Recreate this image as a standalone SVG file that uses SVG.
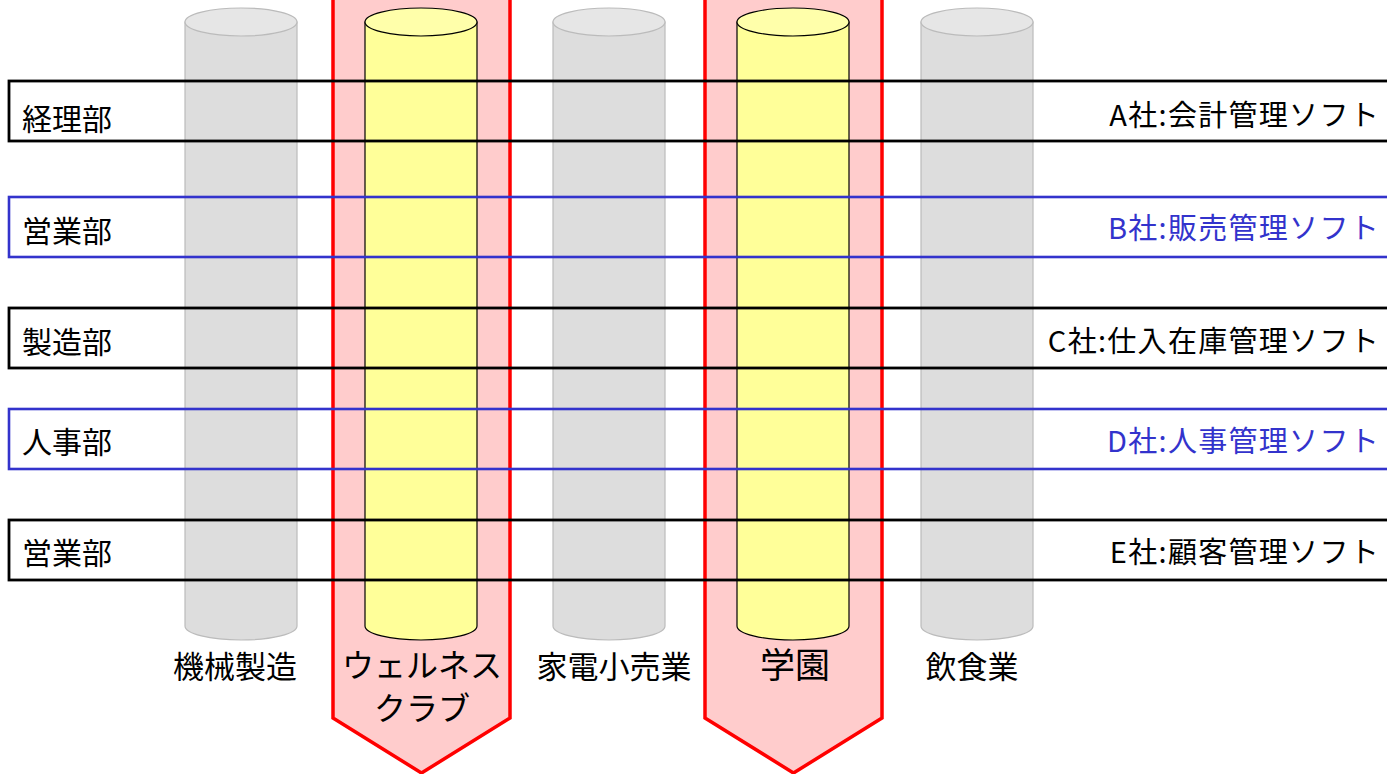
<svg xmlns="http://www.w3.org/2000/svg" width="1387" height="774" viewBox="0 0 1387 774">
<style>
text{font-family:"Noto Sans CJK JP","Noto Sans",sans-serif;fill:#000}
.gb{fill:#dddddd;stroke:#bbbbbb;stroke-width:1.2}
.gt{fill:#e6e6e6;stroke:#bbbbbb;stroke-width:1.2}
.yb{fill:#ffff99;stroke:#000;stroke-width:1.2}
.yt{fill:#ffffaa;stroke:#000;stroke-width:1.2}
.arrow{fill:#ffcccc;stroke:#ff0000;stroke-width:3.5}
.bk{fill:none;stroke:#000;stroke-width:2.8}
.bl{fill:none;stroke:#3333cc;stroke-width:2.6}
.lt{font-size:30px}
.rt{font-size:29px;text-anchor:end;letter-spacing:1.3px}
.blue{fill:#3333cc}
.cl{font-size:31px;text-anchor:middle}
</style>
<g id="arrow-wellness"><polygon class="arrow" points="333,-5 510,-5 510,718 421.5,773 333,718"/></g>
<g id="arrow-gakuen"><polygon class="arrow" points="705,-5 882,-5 882,718 793.5,773 705,718"/></g>
<g id="col-kikai"><path class="gb" d="M185,22 V626 A56,14 0 0 0 297,626 V22 Z"/><ellipse class="gt" cx="241" cy="22" rx="56" ry="14"/><text class="cl" x="235" y="678">機械製造</text></g>
<g id="col-wellness"><path class="yb" d="M365,22 V626 A56,14 0 0 0 477,626 V22 Z"/><ellipse class="yt" cx="421" cy="22" rx="56" ry="14"/><text class="cl" x="422" y="677" style="font-size:32px">ウェルネス</text><text class="cl" x="422" y="720" style="font-size:32px">クラブ</text></g>
<g id="col-kaden"><path class="gb" d="M553,22 V626 A56,14 0 0 0 665,626 V22 Z"/><ellipse class="gt" cx="609" cy="22" rx="56" ry="14"/><text class="cl" x="614" y="678">家電小売業</text></g>
<g id="col-gakuen"><path class="yb" d="M737,22 V626 A56,14 0 0 0 849,626 V22 Z"/><ellipse class="yt" cx="793" cy="22" rx="56" ry="14"/><text class="cl" x="795" y="678" style="font-size:35px">学園</text></g>
<g id="col-inshoku"><path class="gb" d="M921,22 V626 A56,14 0 0 0 1033,626 V22 Z"/><ellipse class="gt" cx="977" cy="22" rx="56" ry="14"/><text class="cl" x="972" y="678">飲食業</text></g>
<g id="band-a"><rect class="bk" x="9" y="81" width="1390" height="60"/><text class="lt" x="22" y="130">経理部</text><text class="rt" x="1380" y="126">A社:会計管理ソフト</text></g>
<g id="band-b"><rect class="bl" x="9" y="197" width="1390" height="60"/><text class="lt" x="22" y="242">営業部</text><text class="rt blue" x="1380" y="239">B社:販売管理ソフト</text></g>
<g id="band-c"><rect class="bk" x="9" y="308" width="1390" height="60"/><text class="lt" x="22" y="353">製造部</text><text class="rt" x="1380" y="352">C社:仕入在庫管理ソフト</text></g>
<g id="band-d"><rect class="bl" x="9" y="409" width="1390" height="60"/><text class="lt" x="22" y="453">人事部</text><text class="rt blue" x="1380" y="452">D社:人事管理ソフト</text></g>
<g id="band-e"><rect class="bk" x="9" y="520" width="1390" height="60"/><text class="lt" x="22" y="564">営業部</text><text class="rt" x="1380" y="563">E社:顧客管理ソフト</text></g>
<g id="connectors"></g>
</svg>
